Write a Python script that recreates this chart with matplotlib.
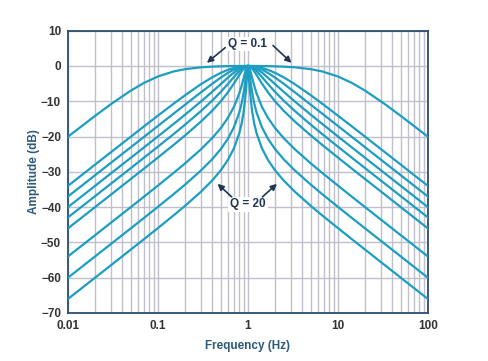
import matplotlib
matplotlib.use("Agg")
import matplotlib.pyplot as plt
from matplotlib.ticker import FixedLocator, LogLocator, NullFormatter


# Frequencies from 0.01 Hz up to the 1 Hz peak (log axis).
FREQ_LOW = [0.01, 0.02, 0.03, 0.05, 0.07, 0.1, 0.15, 0.2, 0.3, 0.4, 0.5,
            0.6, 0.7, 0.8, 0.85, 0.9, 0.95, 0.97, 0.98, 0.99, 1.0]
# Matching frequencies above the peak (same distance on the log axis).
FREQ_HIGH = [1.0101, 1.0204, 1.0309, 1.0526, 1.1111, 1.1765, 1.25, 1.4286,
             1.6667, 2.0, 2.5, 3.3333, 5.0, 6.6667, 10.0, 14.286, 20.0,
             33.333, 50.0, 100.0]

Q_VALUES = [0.1, 0.5, 0.707, 1, 1.4, 2, 5, 10, 20]

# Amplitude (dB) at FREQ_LOW, one list per Q; the curves mirror about 1 Hz.
AMP_Q01 = [-20.04, -14.15, -10.82, -6.97, -4.80, -2.97, -1.54, -0.90, -0.38, -0.19, -0.10,
           -0.05, -0.02, -0.01, 0.0, 0.0, 0.0, 0.0, 0.0, 0.0, 0.0]
AMP_Q05 = [-33.98, -27.96, -24.45, -20.02, -17.12, -14.07, -10.65, -8.30, -5.18, -3.23, -1.94,
           -1.09, -0.54, -0.21, -0.11, -0.05, -0.01, 0.0, 0.0, 0.0, 0.0]
AMP_Q07 = [-36.99, -30.97, -27.45, -23.01, -20.09, -16.99, -13.47, -10.98, -7.48, -5.06, -3.27,
           -1.96, -1.02, -0.42, -0.23, -0.10, -0.02, -0.01, 0.0, 0.0, 0.0]
AMP_Q1 = [-40.00, -33.98, -30.45, -26.01, -23.08, -19.96, -16.38, -13.81, -10.09, -7.33, -5.12,
          -3.30, -1.85, -0.80, -0.44, -0.19, -0.05, -0.02, -0.01, 0.0, 0.0]
AMP_Q14 = [-42.92, -36.90, -33.37, -28.93, -25.99, -22.86, -19.26, -16.64, -12.79, -9.84, -7.33,
           -5.09, -3.10, -1.45, -0.82, -0.36, -0.09, -0.03, -0.01, 0.0, 0.0]
AMP_Q2 = [-46.02, -40.00, -36.47, -32.02, -29.08, -25.94, -22.33, -19.69, -15.77, -12.70, -10.00,
          -7.44, -4.95, -2.58, -1.54, -0.71, -0.18, -0.06, -0.03, -0.01, 0.0]
AMP_Q5 = [-53.98, -47.96, -44.43, -39.98, -37.04, -33.89, -30.26, -27.61, -23.64, -20.46, -17.58,
          -14.69, -11.54, -7.83, -5.64, -3.25, -1.02, -0.39, -0.17, -0.04, 0.0]
AMP_Q10 = [-60.00, -53.98, -50.45, -46.00, -43.06, -39.91, -36.28, -33.63, -29.64, -26.45, -23.54,
           -20.60, -17.33, -13.27, -10.67, -7.37, -3.12, -1.37, -0.66, -0.17, 0.0]
AMP_Q20 = [-66.02, -60.00, -56.47, -52.02, -49.08, -45.93, -42.30, -39.65, -35.66, -32.47, -29.55,
           -26.59, -23.29, -19.14, -16.40, -12.75, -7.17, -3.95, -2.18, -0.65, 0.0]

AMP_CURVES = [AMP_Q01, AMP_Q05, AMP_Q07, AMP_Q1, AMP_Q14, AMP_Q2, AMP_Q5, AMP_Q10, AMP_Q20]

X_TICKS = [0.01, 0.1, 1, 10, 100]
X_TICK_LABELS = ["0.01", "0.1", "1", "10", "100"]
Y_TICKS = [10, 0, -10, -20, -30, -40, -50, -60, -70]
Y_TICK_LABELS = ["10", "0", "\u221210", "\u221220", "\u221230", "\u221240", "\u221250", "\u221260", "\u221270"]

LINE_COLOR = "#1c9ec2"
TEXT_COLOR = "#1f3553"
LABEL_COLOR = "#2d5a7b"
GRID_COLOR = "#c0c0cc"

plt.rcParams["font.family"] = ["Liberation Sans", "DejaVu Sans"]

fig = plt.figure(figsize=(4.89, 3.61), dpi=100)
ax = fig.add_axes([0.139, 0.133, 0.736, 0.782])

freqs = FREQ_LOW + FREQ_HIGH
for amps in AMP_CURVES:
    # mirror the low side onto the high side
    ax.plot(freqs, amps + amps[-2::-1], color=LINE_COLOR, linewidth=1.6,
            solid_joinstyle="round", zorder=3)

ax.set_xscale("log")
ax.set_xlim(0.01, 100)
ax.set_ylim(-70, 10)

ax.xaxis.set_major_locator(FixedLocator(X_TICKS))
ax.set_xticklabels(X_TICK_LABELS)
ax.xaxis.set_minor_locator(LogLocator(base=10, subs=range(2, 10)))
ax.xaxis.set_minor_formatter(NullFormatter())
ax.set_yticks(Y_TICKS)
ax.set_yticklabels(Y_TICK_LABELS)

ax.grid(which="major", axis="both", color=GRID_COLOR, linewidth=1.0, zorder=0)
ax.grid(which="minor", axis="x", color=GRID_COLOR, linewidth=1.0, zorder=0)
ax.set_axisbelow(True)

ax.tick_params(which="both", length=0, pad=5, labelsize=8.5, labelcolor="#333333")
for lab in ax.get_xticklabels() + ax.get_yticklabels():
    lab.set_fontweight("bold")

for spine in ax.spines.values():
    spine.set_color("#2b4d6e")
    spine.set_linewidth(1.3)

ax.set_xlabel("Frequency (Hz)", fontsize=8.5, fontweight="bold", color=LABEL_COLOR, labelpad=6)
ax.set_ylabel("Amplitude (dB)", fontsize=8.5, fontweight="bold", color=LABEL_COLOR, labelpad=1)

arrow = dict(arrowstyle="-|>", color=TEXT_COLOR, lw=1.2, mutation_scale=9, shrinkA=0, shrinkB=0)

ax.text(1.0, 6.3, "Q = 0.1", ha="center", va="center", fontsize=8.5,
        fontweight="bold", color=TEXT_COLOR, zorder=5,
        bbox=dict(boxstyle="square,pad=0.1", fc="white", ec="none"))
ax.annotate("", xy=(0.35, 0.9), xytext=(0.56, 5.2), arrowprops=arrow, zorder=5)
ax.annotate("", xy=(3.05, 0.9), xytext=(1.9, 5.8), arrowprops=arrow, zorder=5)

ax.text(1.0, -39.2, "Q = 20", ha="center", va="center", fontsize=8.5,
        fontweight="bold", color=TEXT_COLOR, zorder=5,
        bbox=dict(boxstyle="square,pad=0.15", fc="white", ec="none"))
ax.annotate("", xy=(0.46, -33.4), xytext=(0.66, -37.1), arrowprops=arrow, zorder=5)
ax.annotate("", xy=(2.1, -33.4), xytext=(1.45, -37.1), arrowprops=arrow, zorder=5)

fig.savefig("out.png", dpi=100, facecolor="white")
